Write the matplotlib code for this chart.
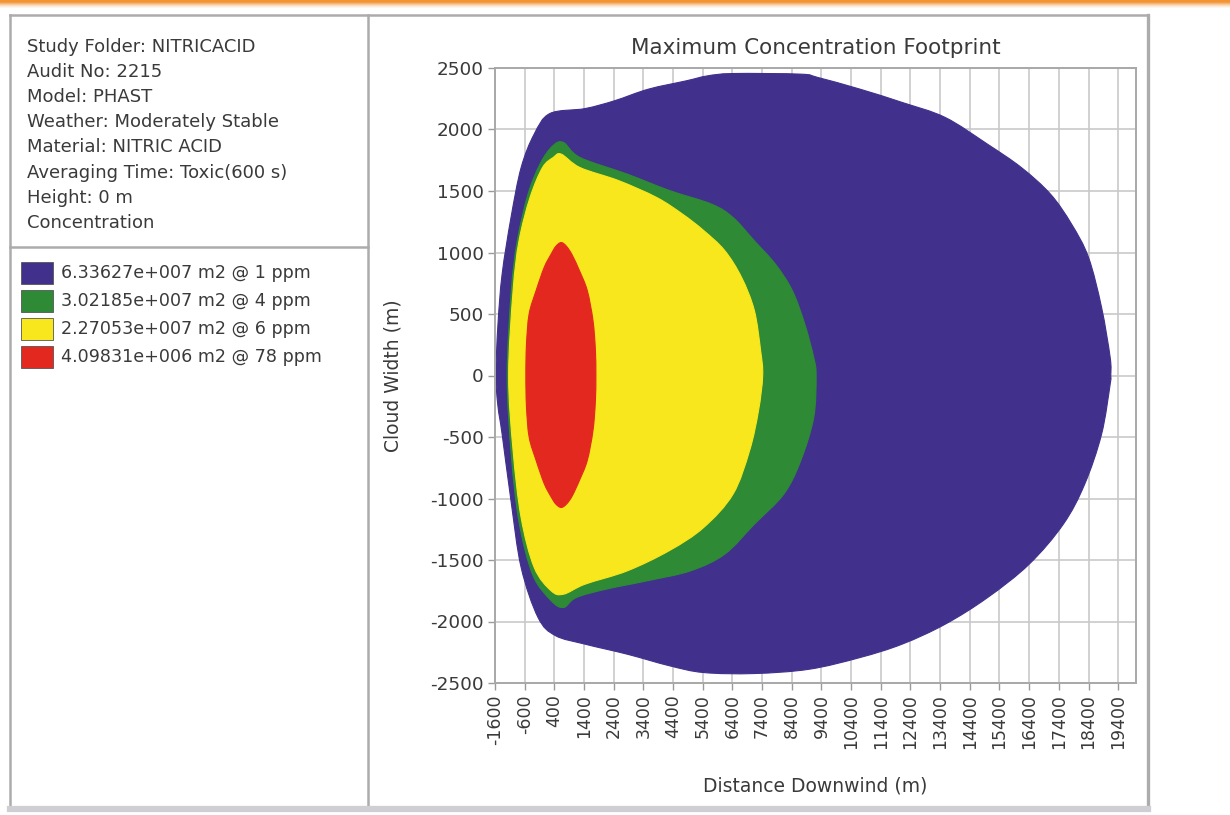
import matplotlib
matplotlib.use("Agg")
import matplotlib.pyplot as plt
from matplotlib.patches import Rectangle, PathPatch
from matplotlib.lines import Line2D
from matplotlib.path import Path
import numpy as np

# ---------------- data ----------------
info_lines = [
    "Study Folder: NITRICACID",
    "Audit No: 2215",
    "Model: PHAST",
    "Weather: Moderately Stable",
    "Material: NITRIC ACID",
    "Averaging Time: Toxic(600 s)",
    "Height: 0 m",
    "Concentration",
]
legend_labels = [
    "6.33627e+007 m2 @ 1 ppm",
    "3.02185e+007 m2 @ 4 ppm",
    "2.27053e+007 m2 @ 6 ppm",
    "4.09831e+006 m2 @ 78 ppm",
]
level_colors = ["#41308c", "#2e8a34", "#f8e71c", "#e3281f"]

x_ticks = list(range(-1600, 19401, 1000))
y_ticks = list(range(-2500, 2501, 500))

# 1 ppm contour
blue_up_x = [-1570, -1500, -1360, -1060, -720, -280, 250, 1430, 2420, 3570, 4850, 5560, 6420,
             8700, 9280, 10700, 12120, 13570, 15000, 16140, 17120, 17830, 18400, 18840, 19130, 19150]
blue_up_y = [0, 417, 824, 1285, 1690, 1962, 2130, 2170, 2233, 2328, 2396, 2436, 2455,
             2450, 2423, 2328, 2220, 2098, 1880, 1690, 1474, 1230, 960, 553, 146, 0]
blue_lo_x = [-1570, -1500, -1360, -1060, -720, -150, 430, 1430, 2860, 4280, 5430, 7140, 8990,
             10700, 12120, 13570, 15000, 16400, 17550, 18270, 18840, 19130, 19150]
blue_lo_y = [0, -250, -477, -1020, -1560, -1967, -2114, -2184, -2266, -2360, -2415, -2423, -2388,
             -2293, -2184, -2022, -1805, -1534, -1209, -884, -477, -70, 0]

# 4 ppm contour
green_up_x = [-1190, -1050, -850, -480, -60, 360, 710, 1270, 2860, 4280, 5700, 6420, 7140,
              7850, 8420, 8840, 9140, 9220]
green_up_y = [0, 690, 1095, 1480, 1730, 1870, 1894, 1772, 1637, 1504, 1393, 1285, 1095,
              905, 690, 417, 146, 0]
green_lo_x = [-1190, -1050, -790, -330, 290, 710, 1140, 2150, 3570, 4990, 6140, 7140, 8130,
              8700, 9140, 9220]
green_lo_y = [0, -650, -1190, -1620, -1830, -1886, -1805, -1737, -1667, -1588, -1453, -1209, -965,
              -694, -341, 0]

# 6 ppm contour
yellow_up_x = [-1140, -990, -790, -420, 0, 360, 630, 1270, 2560, 3850, 4720, 5430, 6140,
               6710, 7140, 7350, 7420]
yellow_up_y = [0, 690, 1095, 1447, 1690, 1772, 1800, 1690, 1585, 1447, 1312, 1179, 1016,
               797, 528, 203, 0]
yellow_lo_x = [-1140, -990, -720, -280, 290, 710, 1430, 2860, 4280, 5430, 6420, 6980, 7280, 7420]
yellow_lo_y = [0, -610, -1155, -1560, -1750, -1778, -1697, -1588, -1423, -1236, -965, -610, -285, 0]

# 78 ppm contour
red_up_x = [-560, -540, -450, -215, 60, 290, 450, 630, 810, 1000, 1250, 1510, 1700, 1780, 1800]
red_up_y = [0, 250, 500, 690, 880, 986, 1050, 1081, 1050, 980, 850, 690, 450, 220, 0]
red_lo_x = [-560, -540, -450, -215, 60, 290, 450, 630, 810, 1000, 1250, 1510, 1700, 1780, 1800]
red_lo_y = [0, -250, -500, -690, -880, -986, -1045, -1073, -1045, -980, -850, -690, -450, -220, 0]

contours = [
    (blue_up_x, blue_up_y, blue_lo_x, blue_lo_y),
    (green_up_x, green_up_y, green_lo_x, green_lo_y),
    (yellow_up_x, yellow_up_y, yellow_lo_x, yellow_lo_y),
    (red_up_x, red_up_y, red_lo_x, red_lo_y),
]

# ---------------- figure ----------------
W, H = 1230, 815
fig = plt.figure(figsize=(W / 100, H / 100), dpi=100)
fig.patch.set_facecolor("white")
FONT = "DejaVu Sans"
TXT = "#3a3a3a"
FS = 13.0

def fx(px):
    return px / W

def fy(py):
    return 1 - py / H

# orange top stripe with fade
for i, a in enumerate([1.0, 1.0, 0.9, 0.7, 0.5, 0.32, 0.18, 0.08]):
    fig.patches.append(Rectangle((0, fy(i + 1)), 1, 1 / H, transform=fig.transFigure,
                                 facecolor="#f29434", alpha=a, edgecolor="none", zorder=0))

border = "#acacac"
def fline(x0, y0, x1, y1, lw=1.8, color=border):
    fig.add_artist(Line2D([fx(x0), fx(x1)], [fy(y0), fy(y1)], transform=fig.transFigure,
                          color=color, lw=lw, zorder=5))

# panel frame
fline(10, 15, 1148, 15)
fline(10, 15, 10, 808)
fline(368, 15, 368, 808)
fline(1148, 15, 1148, 808, lw=2.4)
fline(10, 247, 368, 247)
fline(10, 809, 1148, 809, lw=4.5, color="#cfcfd3")

# info text
for i, s in enumerate(info_lines):
    fig.text(fx(27), fy(47 + 25.1 * i), s, fontsize=FS, family=FONT, color=TXT,
             va="center", ha="left")

# legend
for i, (lab, col) in enumerate(zip(legend_labels, level_colors)):
    cy = 273 + 28 * i
    fig.patches.append(Rectangle((fx(21), fy(cy + 11)), fx(32), 22 / H, transform=fig.transFigure,
                                 facecolor=col, edgecolor="#555555", lw=0.6, zorder=3))
    fig.text(fx(61), fy(cy), lab, fontsize=12.6, family=FONT, color=TXT, va="center", ha="left")

# ---------------- chart ----------------
ax = fig.add_axes([fx(495), fy(683), fx(1136) - fx(495), fy(68) - fy(683)])
ax.set_xlim(-1600, 20000)
ax.set_ylim(-2500, 2500)
ax.set_xticks(x_ticks)
ax.set_xticklabels([str(v) for v in x_ticks], rotation=90, fontsize=12.5, family=FONT, color=TXT)
ax.set_yticks(y_ticks)
ax.set_yticklabels([str(v) for v in y_ticks], fontsize=13.2, family=FONT, color=TXT)
ax.tick_params(axis="both", length=5, color="#9a9a9a", width=1.0, pad=3)
ax.grid(True, color="#c9c9c9", lw=1.2)
ax.set_axisbelow(True)
for sp in ax.spines.values():
    sp.set_color("#a8a8a8")
    sp.set_linewidth(1.4)


def smooth_closed_path(pts):
    """Closed Catmull-Rom curve through the given outline points, as a Bezier path."""
    p = np.asarray(pts, dtype=float)
    n = len(p)
    verts = [p[0]]
    codes = [Path.MOVETO]
    for i in range(n):
        p0, p1, p2, p3 = p[(i - 1) % n], p[i], p[(i + 1) % n], p[(i + 2) % n]
        c1 = p1 + (p2 - p0) / 6.0
        c2 = p2 - (p3 - p1) / 6.0
        verts += [c1, c2, p2]
        codes += [Path.CURVE4] * 3
    verts.append(p[0])
    codes.append(Path.CLOSEPOLY)
    return Path(verts, codes)


for (ux, uy, lx, ly), col in zip(contours, level_colors):
    upper = list(zip(ux, uy))
    lower = list(zip(lx, ly))[::-1][1:-1]
    path = smooth_closed_path(upper + lower)
    ax.add_patch(PathPatch(path, facecolor=col, edgecolor=col, lw=0.8, zorder=2))

ax.set_title("Maximum Concentration Footprint", fontsize=15.5, family=FONT, color=TXT, pad=10)
ax.set_xlabel("Distance Downwind (m)", fontsize=13.5, family=FONT, color=TXT, labelpad=20)
ax.set_ylabel("Cloud Width (m)", fontsize=13.5, family=FONT, color=TXT, labelpad=20)

fig.savefig("out.png", dpi=100)
